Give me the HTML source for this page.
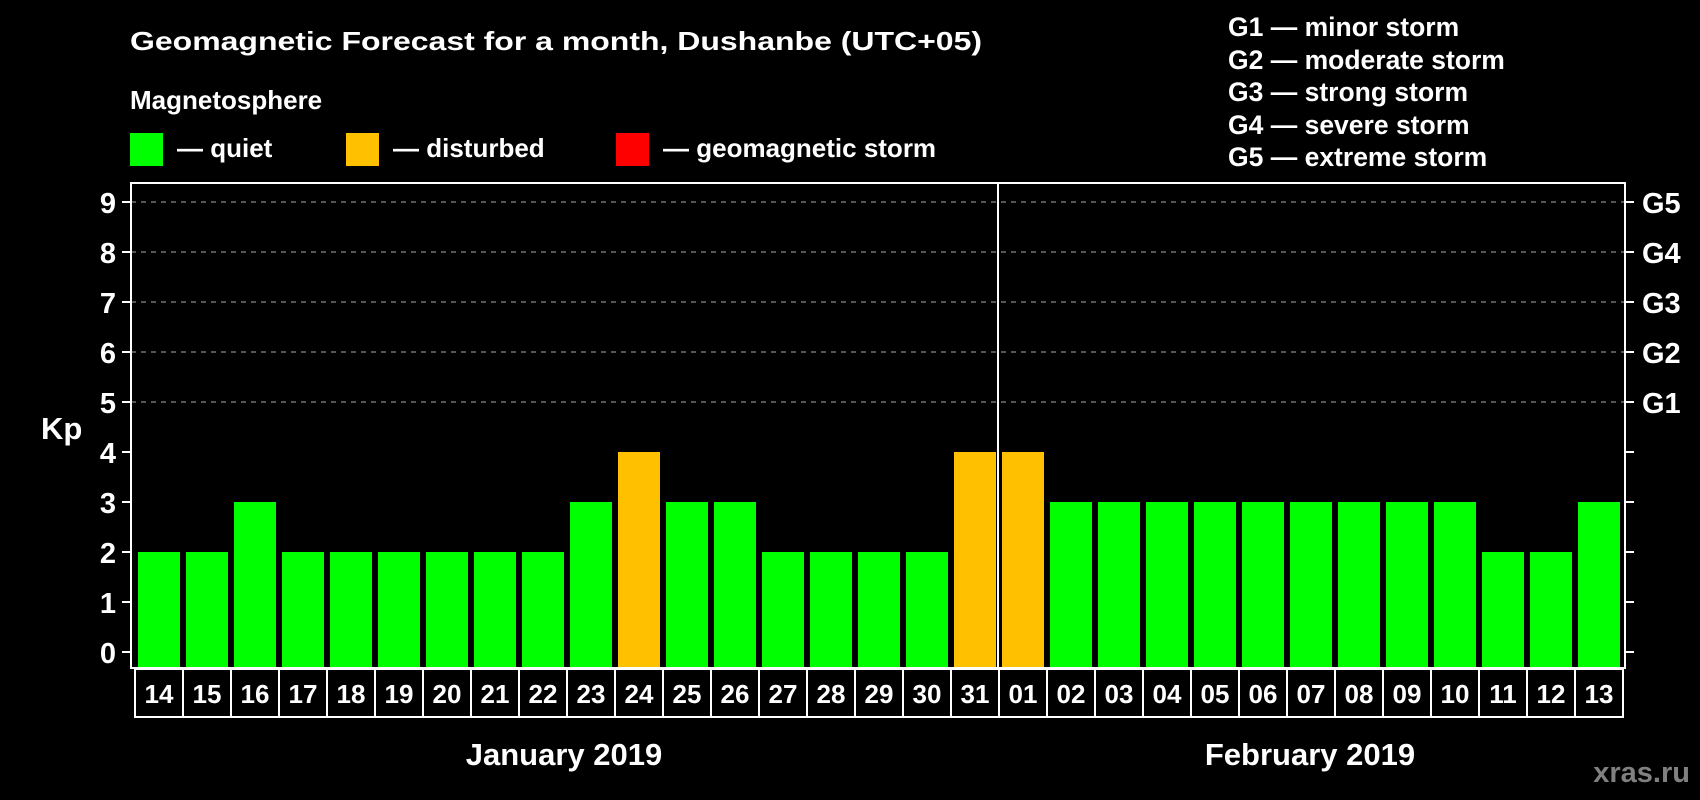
<!DOCTYPE html>
<html><head><meta charset="utf-8"><style>
html,body{margin:0;padding:0;background:#000;}
svg{display:block;font-family:"Liberation Sans",Arial,sans-serif;font-weight:bold;}
</style></head><body>
<svg id="chart" width="1700" height="800" viewBox="0 0 1700 800">
<text x="130" y="50" fill="#fff" font-size="26" textLength="852" lengthAdjust="spacingAndGlyphs">Geomagnetic Forecast for a month, Dushanbe (UTC+05)</text>
<text x="130" y="109" fill="#fff" font-size="26">Magnetosphere</text>
<g>
<rect x="130" y="133" width="33" height="33" fill="#00ff00"/>
<text x="177" y="157" fill="#fff" font-size="26">— quiet</text>
<rect x="346" y="133" width="33" height="33" fill="#ffc000"/>
<text x="393" y="157" fill="#fff" font-size="26">— disturbed</text>
<rect x="616" y="133" width="33" height="33" fill="#ff0000"/>
<text x="663" y="157" fill="#fff" font-size="26">— geomagnetic storm</text>
</g>
<g fill="#fff" font-size="26.5">
<text x="1228" y="36">G1 — minor storm</text>
<text x="1228" y="69">G2 — moderate storm</text>
<text x="1228" y="101">G3 — strong storm</text>
<text x="1228" y="134">G4 — severe storm</text>
<text x="1228" y="166">G5 — extreme storm</text>
</g>
<text x="41" y="439" fill="#fff" font-size="31">Kp</text>
<text x="564" y="765" fill="#fff" font-size="31" text-anchor="middle">January 2019</text>
<text x="1310" y="765" fill="#fff" font-size="31" text-anchor="middle">February 2019</text>
<text x="1690" y="782" fill="#808080" font-size="29" text-anchor="end">xras.ru</text>
<g id="plot"></g>
</svg>
<script>
const days = ["14","15","16","17","18","19","20","21","22","23","24","25","26","27","28","29","30","31","01","02","03","04","05","06","07","08","09","10","11","12","13"];
const kp = [2,2,3,2,2,2,2,2,2,3,4,3,3,2,2,2,2,4,4,3,3,3,3,3,3,3,3,3,2,2,3];
const yTicks = [0,1,2,3,4,5,6,7,8,9];
const gLabels = ["G1","G2","G3","G4","G5"];
const gLevels = [5,6,7,8,9];
const monthBreakIndex = 18;

(function(){
const NS = "http://www.w3.org/2000/svg";
const plot = document.getElementById("plot");
const pLeft = 131, pRight = 1625, pTop = 183, pBottom = 668;
const x0 = 135, step = 48;
function yScale(v){ return 652 - v * 50; }
function xScale(i){ return x0 + i * step; }
function mk(tag, attrs){ const e = document.createElementNS(NS, tag); for (const k in attrs) e.setAttribute(k, attrs[k]); plot.appendChild(e); return e; }
function color(v){ return v >= 5 ? "#ff0000" : (v >= 4 ? "#ffc000" : "#00ff00"); }

gLevels.forEach(v => {
  const l = mk("line", {x1:pLeft, x2:pRight, y1:yScale(v), y2:yScale(v), stroke:"#888", "stroke-width":1.2, "stroke-dasharray":"5,5"});
  
  
});
kp.forEach((v, i) => {
  const r = mk("rect", {x:xScale(i)+3, y:yScale(v), width:42, height:pBottom - yScale(v) - 1, fill:color(v)});
  
  
});
const f = mk("rect", {x:pLeft, y:pTop, width:pRight-pLeft, height:pBottom-pTop, fill:"none", stroke:"#fff", "stroke-width":2});


const dv = mk("line", {x1:xScale(monthBreakIndex)-1, x2:xScale(monthBreakIndex)-1, y1:pTop, y2:pBottom, stroke:"#fff", "stroke-width":2});


yTicks.forEach(v => {
  const y = yScale(v);
  const t1 = mk("line", {x1:122, x2:pLeft, y1:y, y2:y, stroke:"#fff", "stroke-width":2});
  
  
  const t2 = mk("line", {x1:pRight, x2:1634, y1:y, y2:y, stroke:"#fff", "stroke-width":2});
  
  
  const tx = mk("text", {x:116, y:y+11, fill:"#fff", "font-size":29, "text-anchor":"end"});
  tx.textContent = v;
  
  
});
gLabels.forEach((g, i) => {
  const tx = mk("text", {x:1642, y:yScale(gLevels[i])+11, fill:"#fff", "font-size":29});
  tx.textContent = g;
  
  
});
days.forEach((d, i) => {
  const r = mk("rect", {x:xScale(i), y:669, width:step, height:48, fill:"#000", stroke:"#fff", "stroke-width":2});
  
  
  const t = mk("text", {x:xScale(i)+step/2, y:703, fill:"#fff", "font-size":26, "text-anchor":"middle"});
  t.textContent = d;
  
  
});
})();
</script>
</body></html>
